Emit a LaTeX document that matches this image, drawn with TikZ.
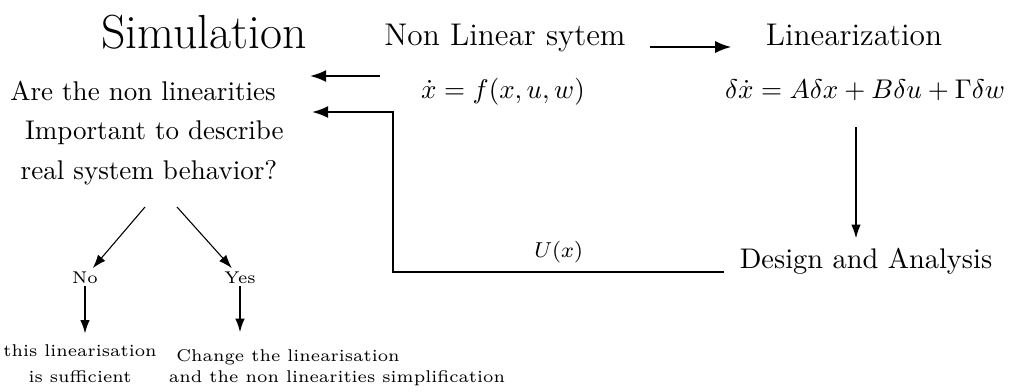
\documentclass[tikz,border=0pt]{standalone}
\usepackage{amsmath}
\usepackage{tikz}
\usetikzlibrary{arrows.meta,calc}

\begin{document}
\begin{tikzpicture}[x=0.013cm,y=-0.013cm,
    arr/.style={thick,-{Latex[length=6pt,width=4.5pt]}},
    thinarr/.style={thin,-{Latex[length=5pt,width=3.5pt]}},
    small/.style={font=\fontsize{6.3}{8}\selectfont,inner sep=1pt}]
  \useasboundingbox (0,0) rectangle (1012,391);
  % Titles
  \node[anchor=base,font=\fontsize{17.7}{21}\selectfont] (sim) at (204,48) {Simulation};
  \node[anchor=base,font=\fontsize{11.6}{14}\selectfont] (nonlin) at (505,45) {Non Linear sytem};
  \node[anchor=base,font=\fontsize{11.6}{14}\selectfont] (lin) at (854,45) {Linearization};
  % Equations
  \node[anchor=base] (fx) at (503,98) {$\dot{x}=f(x,u,w)$};
  \node[anchor=base] (lineq) at (865,98) {$\delta\dot{x}=A\delta x+B\delta u+\Gamma\delta w$};
  \node[anchor=base,font=\fontsize{10.5}{13}\selectfont] (design) at (866,268) {Design and Analysis};
  % Question and answers
  \node[align=center,font=\fontsize{10}{14.5}\selectfont] (q) at (149,133)
    {Are the non linearities\hspace*{4.4pt}\\\hspace*{4pt}Important to describe\\real system behavior?};
  \node[small,anchor=base] (no) at (85,283) {No};
  \node[small,anchor=base] (yes) at (240,283) {Yes};
  \node[small,align=center,font=\fontsize{6.3}{9.6}\selectfont] (suff) at (80,364)
    {this linearisation\\is sufficient};
  \node[small,anchor=base] (chg1) at (288,361) {Change the linearisation};
  \node[small,anchor=base] (chg2) at (337,382) {and the non linearities simplification};
  % Free ends
  \coordinate (fwdA) at (380,76);
  \coordinate (fwdB) at (310,76);
  \coordinate (fbcorner) at (393,112);
  \coordinate (fbend) at (312,112);
  \coordinate (dn) at (856,127);
  \coordinate (qL) at (145,207);
  \coordinate (qR) at (177,207);
  % Connectors
  \draw[arr] ($(nonlin.base east)+(15,2)$) -- ($(lin.base west)+(-25,2)$);
  \draw[arr] (fwdA) -- (fwdB);
  \draw[thinarr] (dn) -- (dn |- design.north);
  \draw[arr] ($(design.base west)+(-6,4)$) -| (fbcorner)
    node[pos=0.25,above,font=\footnotesize,inner sep=3pt] {$U(x)$} -- (fbend);
  \draw[thinarr] (qL) -- (no);
  \draw[thinarr] (qR) -- (yes);
  \draw[thinarr,semithick,shorten >=3pt] (no) -- (no |- suff.north);
  \draw[thinarr,semithick,shorten >=5pt] (yes) -- (yes |- chg1.north);
\end{tikzpicture}
\end{document}
